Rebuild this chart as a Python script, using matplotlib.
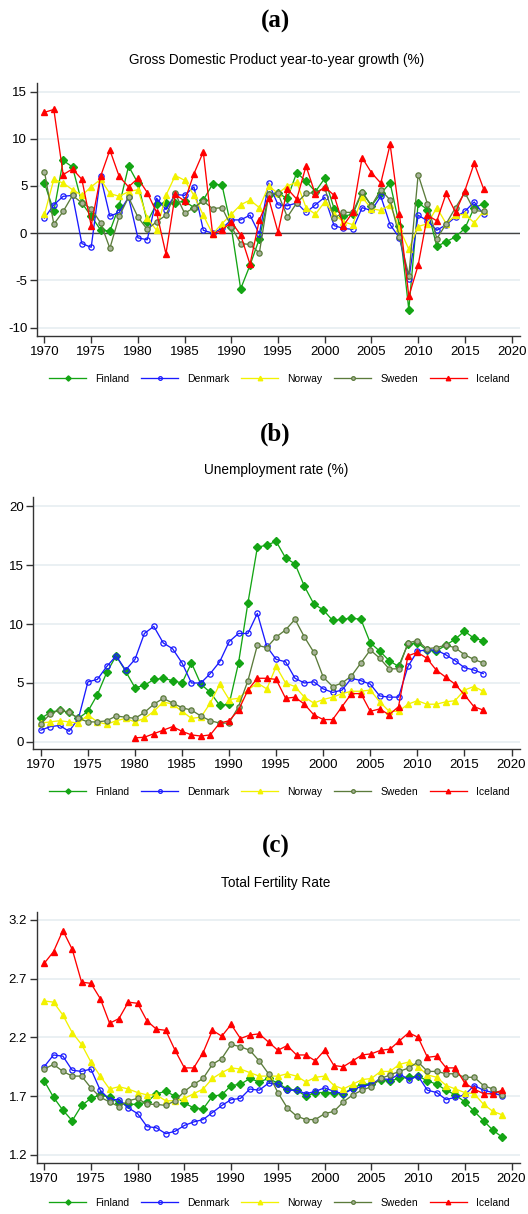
import numpy as np
import matplotlib
matplotlib.use("Agg")
import matplotlib.pyplot as plt

plt.rcParams['font.family'] = ['Liberation Sans', 'DejaVu Sans']

countries = ["Finland", "Denmark", "Norway", "Sweden", "Iceland"]

# (a) GDP growth, 1970-2017
years_gdp = list(range(1970, 2018))
gdp_fi = [5.3, 2.3, 7.7, 7.0, 3.2, 1.8, 0.35, 0.2, 2.9, 7.1, 5.3, 1.2, 3.1, 3.2, 3.2, 3.4, 2.7, 3.5, 5.2, 5.1,
          0.6, -5.9, -3.4, -0.6, 4.0, 4.2, 3.7, 6.4, 5.5, 4.4, 5.8, 2.6, 1.8, 2.0, 4.3, 2.9, 4.2, 5.3, 0.8, -8.1,
          3.2, 2.5, -1.4, -0.9, -0.4, 0.5, 2.7, 3.1]
gdp_dk = [1.6, 3.0, 3.9, 4.0, -1.1, -1.5, 6.0, 1.8, 2.2, 3.8, -0.5, -0.7, 3.7, 2.5, 4.1, 4.0, 4.9, 0.3, 0.0, 0.5,
          1.4, 1.4, 1.9, -0.1, 5.3, 3.0, 2.9, 3.2, 2.2, 3.0, 3.8, 0.8, 0.5, 0.4, 2.7, 2.4, 3.9, 0.9, -0.5, -4.9,
          1.9, 1.3, 0.3, 0.9, 1.7, 2.3, 3.3, 2.0]
gdp_no = [2.0, 5.7, 5.3, 4.6, 4.0, 4.9, 5.7, 4.2, 3.9, 4.4, 4.6, 1.6, 0.3, 4.0, 6.1, 5.6, 4.0, 1.9, -0.1, 1.0,
          2.0, 3.0, 3.5, 2.7, 5.0, 4.2, 5.0, 5.4, 2.7, 2.0, 3.3, 2.0, 1.2, 0.9, 3.8, 2.6, 2.4, 3.0, 0.5, -1.7,
          0.7, 1.0, 2.7, 1.0, 1.9, 2.0, 1.1, 2.3]
gdp_se = [6.5, 0.95, 2.3, 4.0, 3.2, 2.6, 1.1, -1.6, 1.8, 3.8, 1.7, 0.4, 1.2, 1.9, 4.2, 2.1, 2.7, 3.4, 2.6, 2.7,
          0.7, -1.1, -1.2, -2.1, 4.1, 4.2, 1.7, 3.2, 4.2, 4.3, 4.8, 1.6, 2.2, 2.2, 4.4, 2.9, 4.6, 3.5, -0.4, -4.5,
          6.2, 3.1, -0.6, 1.0, 2.7, 4.3, 2.4, 2.3]
gdp_is = [12.8, 13.1, 6.2, 6.8, 5.7, 0.8, 6.0, 8.8, 6.0, 4.9, 5.8, 4.3, 2.2, -2.2, 4.1, 3.4, 6.3, 8.6, -0.1, 0.3,
          1.2, -0.2, -3.3, 1.4, 3.7, 0.1, 4.7, 3.6, 7.1, 4.1, 4.9, 4.0, 0.8, 2.2, 8.0, 6.4, 5.3, 9.4, 2.0, -6.7,
          -3.4, 1.9, 1.3, 4.2, 2.2, 4.5, 7.4, 4.7]

# (b) Unemployment rate, 1970-2017 (Iceland from 1980)
years_un = list(range(1970, 2018))
years_un_is = list(range(1980, 2018))
un_fi = [2.0, 2.5, 2.7, 2.5, 2.0, 2.6, 4.0, 5.9, 7.3, 6.0, 4.6, 4.8, 5.3, 5.4, 5.2, 5.0, 6.7, 4.9, 4.2, 3.1,
         3.2, 6.7, 11.8, 16.5, 16.7, 17.0, 15.6, 15.1, 13.2, 11.7, 11.2, 10.3, 10.4, 10.5, 10.4, 8.4, 7.7, 6.9, 6.4, 8.3,
         8.4, 7.8, 7.7, 8.2, 8.7, 9.4, 8.8, 8.6]
un_dk = [1.0, 1.3, 1.4, 0.9, 2.0, 5.1, 5.3, 6.4, 7.3, 6.1, 7.0, 9.2, 9.8, 8.4, 7.9, 6.7, 5.0, 5.0, 5.8, 6.8,
         8.5, 9.2, 9.2, 10.9, 8.1, 7.0, 6.8, 5.4, 5.0, 5.1, 4.5, 4.2, 4.4, 5.4, 5.2, 4.9, 3.9, 3.8, 3.8, 6.4,
         7.7, 7.8, 7.8, 7.4, 6.9, 6.3, 6.1, 5.8]
un_no = [1.6, 1.7, 1.8, 1.7, 1.6, 2.3, 1.7, 1.5, 1.8, 2.0, 1.7, 2.0, 2.6, 3.4, 3.2, 2.6, 2.0, 2.1, 3.3, 4.9,
         3.6, 3.7, 4.4, 5.0, 4.5, 6.4, 5.0, 4.7, 3.8, 3.3, 3.6, 3.8, 4.1, 4.3, 4.3, 4.4, 3.4, 2.6, 2.6, 3.2,
         3.5, 3.2, 3.2, 3.4, 3.5, 4.4, 4.7, 4.3]
un_se = [1.5, 2.4, 2.7, 2.5, 2.0, 1.7, 1.7, 1.8, 2.2, 2.1, 2.0, 2.5, 3.2, 3.7, 3.3, 2.9, 2.7, 2.2, 1.8, 1.6,
         1.6, 3.0, 5.2, 8.2, 8.0, 8.9, 9.5, 10.4, 8.9, 7.6, 5.5, 4.7, 5.0, 5.6, 6.7, 7.8, 7.1, 6.2, 6.2, 8.4,
         8.6, 7.9, 8.0, 8.2, 8.0, 7.4, 7.0, 6.7]
un_is = [0.35, 0.4, 0.7, 1.0, 1.3, 0.9, 0.6, 0.5, 0.6, 1.6,
         1.8, 2.7, 4.4, 5.4, 5.4, 5.3, 3.7, 3.8, 3.2, 2.3, 1.9, 1.9, 3.0, 4.1, 4.1, 2.6, 2.8, 2.3, 3.0, 7.3,
         7.6, 7.1, 6.1, 5.5, 4.9, 4.0, 3.0, 2.7]

# (c) Total fertility rate, 1970-2019
years_tfr = list(range(1970, 2020))
tfr_fi = [1.83, 1.69, 1.58, 1.49, 1.62, 1.68, 1.71, 1.69, 1.64, 1.63,
          1.63, 1.65, 1.72, 1.74, 1.70, 1.64, 1.60, 1.59, 1.70, 1.71,
          1.79, 1.80, 1.85, 1.82, 1.85, 1.81, 1.76, 1.75, 1.70, 1.73,
          1.73, 1.73, 1.72, 1.77, 1.80, 1.80, 1.84, 1.83, 1.85, 1.86,
          1.87, 1.83, 1.80, 1.75, 1.71, 1.65, 1.57, 1.49, 1.41, 1.35]
tfr_dk = [1.95, 2.05, 2.04, 1.92, 1.91, 1.93, 1.75, 1.67, 1.67, 1.60,
          1.55, 1.44, 1.43, 1.38, 1.40, 1.45, 1.48, 1.50, 1.56, 1.62,
          1.67, 1.68, 1.76, 1.75, 1.81, 1.80, 1.75, 1.75, 1.72, 1.74,
          1.77, 1.74, 1.72, 1.76, 1.78, 1.80, 1.85, 1.84, 1.89, 1.84,
          1.87, 1.75, 1.73, 1.67, 1.69, 1.71, 1.79, 1.75, 1.73, 1.70]
tfr_no = [2.51, 2.50, 2.39, 2.24, 2.14, 1.99, 1.87, 1.76, 1.78, 1.76,
          1.73, 1.71, 1.71, 1.66, 1.66, 1.68, 1.72, 1.76, 1.85, 1.90,
          1.94, 1.93, 1.90, 1.87, 1.87, 1.87, 1.89, 1.87, 1.82, 1.86,
          1.87, 1.79, 1.76, 1.80, 1.84, 1.85, 1.91, 1.91, 1.97, 1.99,
          1.95, 1.88, 1.86, 1.79, 1.76, 1.73, 1.72, 1.63, 1.57, 1.54]
tfr_se = [1.93, 1.97, 1.91, 1.87, 1.87, 1.77, 1.69, 1.65, 1.61, 1.66,
          1.68, 1.63, 1.63, 1.62, 1.66, 1.74, 1.80, 1.85, 1.97, 2.02,
          2.14, 2.12, 2.09, 2.00, 1.89, 1.73, 1.60, 1.53, 1.50, 1.50,
          1.55, 1.57, 1.65, 1.71, 1.75, 1.78, 1.85, 1.88, 1.91, 1.94,
          1.99, 1.91, 1.91, 1.89, 1.89, 1.86, 1.86, 1.79, 1.76, 1.71]
tfr_is = [2.83, 2.93, 3.11, 2.95, 2.67, 2.66, 2.53, 2.32, 2.36, 2.50,
          2.49, 2.34, 2.27, 2.26, 2.09, 1.94, 1.94, 2.07, 2.26, 2.21,
          2.31, 2.19, 2.22, 2.23, 2.16, 2.09, 2.13, 2.05, 2.05, 2.00,
          2.09, 1.96, 1.95, 2.00, 2.05, 2.06, 2.09, 2.10, 2.17, 2.24,
          2.20, 2.03, 2.04, 1.94, 1.94, 1.81, 1.76, 1.72, 1.72, 1.75]

# marker styles per country
styles = {
    "Finland": dict(color="#14a514", marker="D", ms=3.8, mfc="#14a514", mec="#14a514"),
    "Denmark": dict(color="#1a1aff", marker="o", ms=3.8, mfc="none", mec="#1a1aff", mew=0.9),
    "Norway": dict(color="#f2f200", marker="^", ms=4.6, mfc="#f2f200", mec="#f2f200"),
    "Sweden": dict(color="#5b7b3b", marker="o", ms=3.8, mfc="#a8b39a", mec="#5b7b3b", mew=0.9),
    "Iceland": dict(color="#ff0000", marker="^", ms=4.6, mfc="#ff0000", mec="#ff0000"),
}


def panel(ax, xs, ys, ylim, yticks, yticklabels, legend_y, zero=False):
    for c, x, y in zip(countries, xs, ys):
        ax.plot(x, y, lw=0.95, label=c, **styles[c])
    if zero:
        ax.axhline(0, color="#444444", lw=1.0, zorder=1)
    ax.set_xlim(1969.2, 2020.9)
    ax.set_xticks(range(1970, 2021, 5))
    ax.set_ylim(*ylim)
    ax.set_yticks(yticks)
    ax.set_yticklabels(yticklabels)
    ax.yaxis.grid(True, color="#e8eff2", lw=1.3)
    ax.set_axisbelow(True)
    for s in ["top", "right"]:
        ax.spines[s].set_visible(False)
    for s in ["left", "bottom"]:
        ax.spines[s].set_color("#333333")
        ax.spines[s].set_linewidth(1.0)
    ax.tick_params(length=5, width=1, color="#333333", labelsize=9.5, pad=2)
    ax.legend(loc="center", bbox_to_anchor=(0.529, legend_y), bbox_transform=fig.transFigure,
              ncol=5, frameon=False, fontsize=7.5, handlelength=3.55, handletextpad=0.85,
              columnspacing=1.15, borderpad=0, markerscale=0.7)


fig = plt.figure(figsize=(5.28, 12.14), dpi=100)

ax1 = fig.add_axes([0.0701, 0.7232, 0.9147, 0.2084])
ax2 = fig.add_axes([0.0631, 0.3830, 0.9217, 0.2079])
ax3 = fig.add_axes([0.0695, 0.0420, 0.9153, 0.2070])

panel(ax1, [years_gdp] * 5, [gdp_fi, gdp_dk, gdp_no, gdp_se, gdp_is],
      (-10.9, 15.9), [-10, -5, 0, 5, 10, 15], ["-10", "-5", "0", "5", "10", "15"], 0.6878, zero=True)
panel(ax2, [years_un] * 4 + [years_un_is], [un_fi, un_dk, un_no, un_se, un_is],
      (-0.6, 20.8), [0, 5, 10, 15, 20], ["0", "5", "10", "15", "20"], 0.3476)
panel(ax3, [years_tfr] * 5, [tfr_fi, tfr_dk, tfr_no, tfr_se, tfr_is],
      (1.13, 3.27), [1.2, 1.7, 2.2, 2.7, 3.2], ["1.2", "1.7", "2.2", "2.7", "3.2"], 0.0091)

heads = [("(a)", 0.9827, "Gross Domestic Product year-to-year growth (%)", 0.9506),
         ("(b)", 0.6425, "Unemployment rate (%)", 0.6129),
         ("(c)", 0.3031, "Total Fertility Rate", 0.2727)]
for tag, ty, sub, sy in heads:
    fig.text(0.522, ty, tag, ha="center", va="center", fontsize=18, fontweight="bold",
             family="Liberation Serif")
    fig.text(0.523, sy, sub, ha="center", va="center", fontsize=9.8)

fig.savefig("out.png", dpi=100)
